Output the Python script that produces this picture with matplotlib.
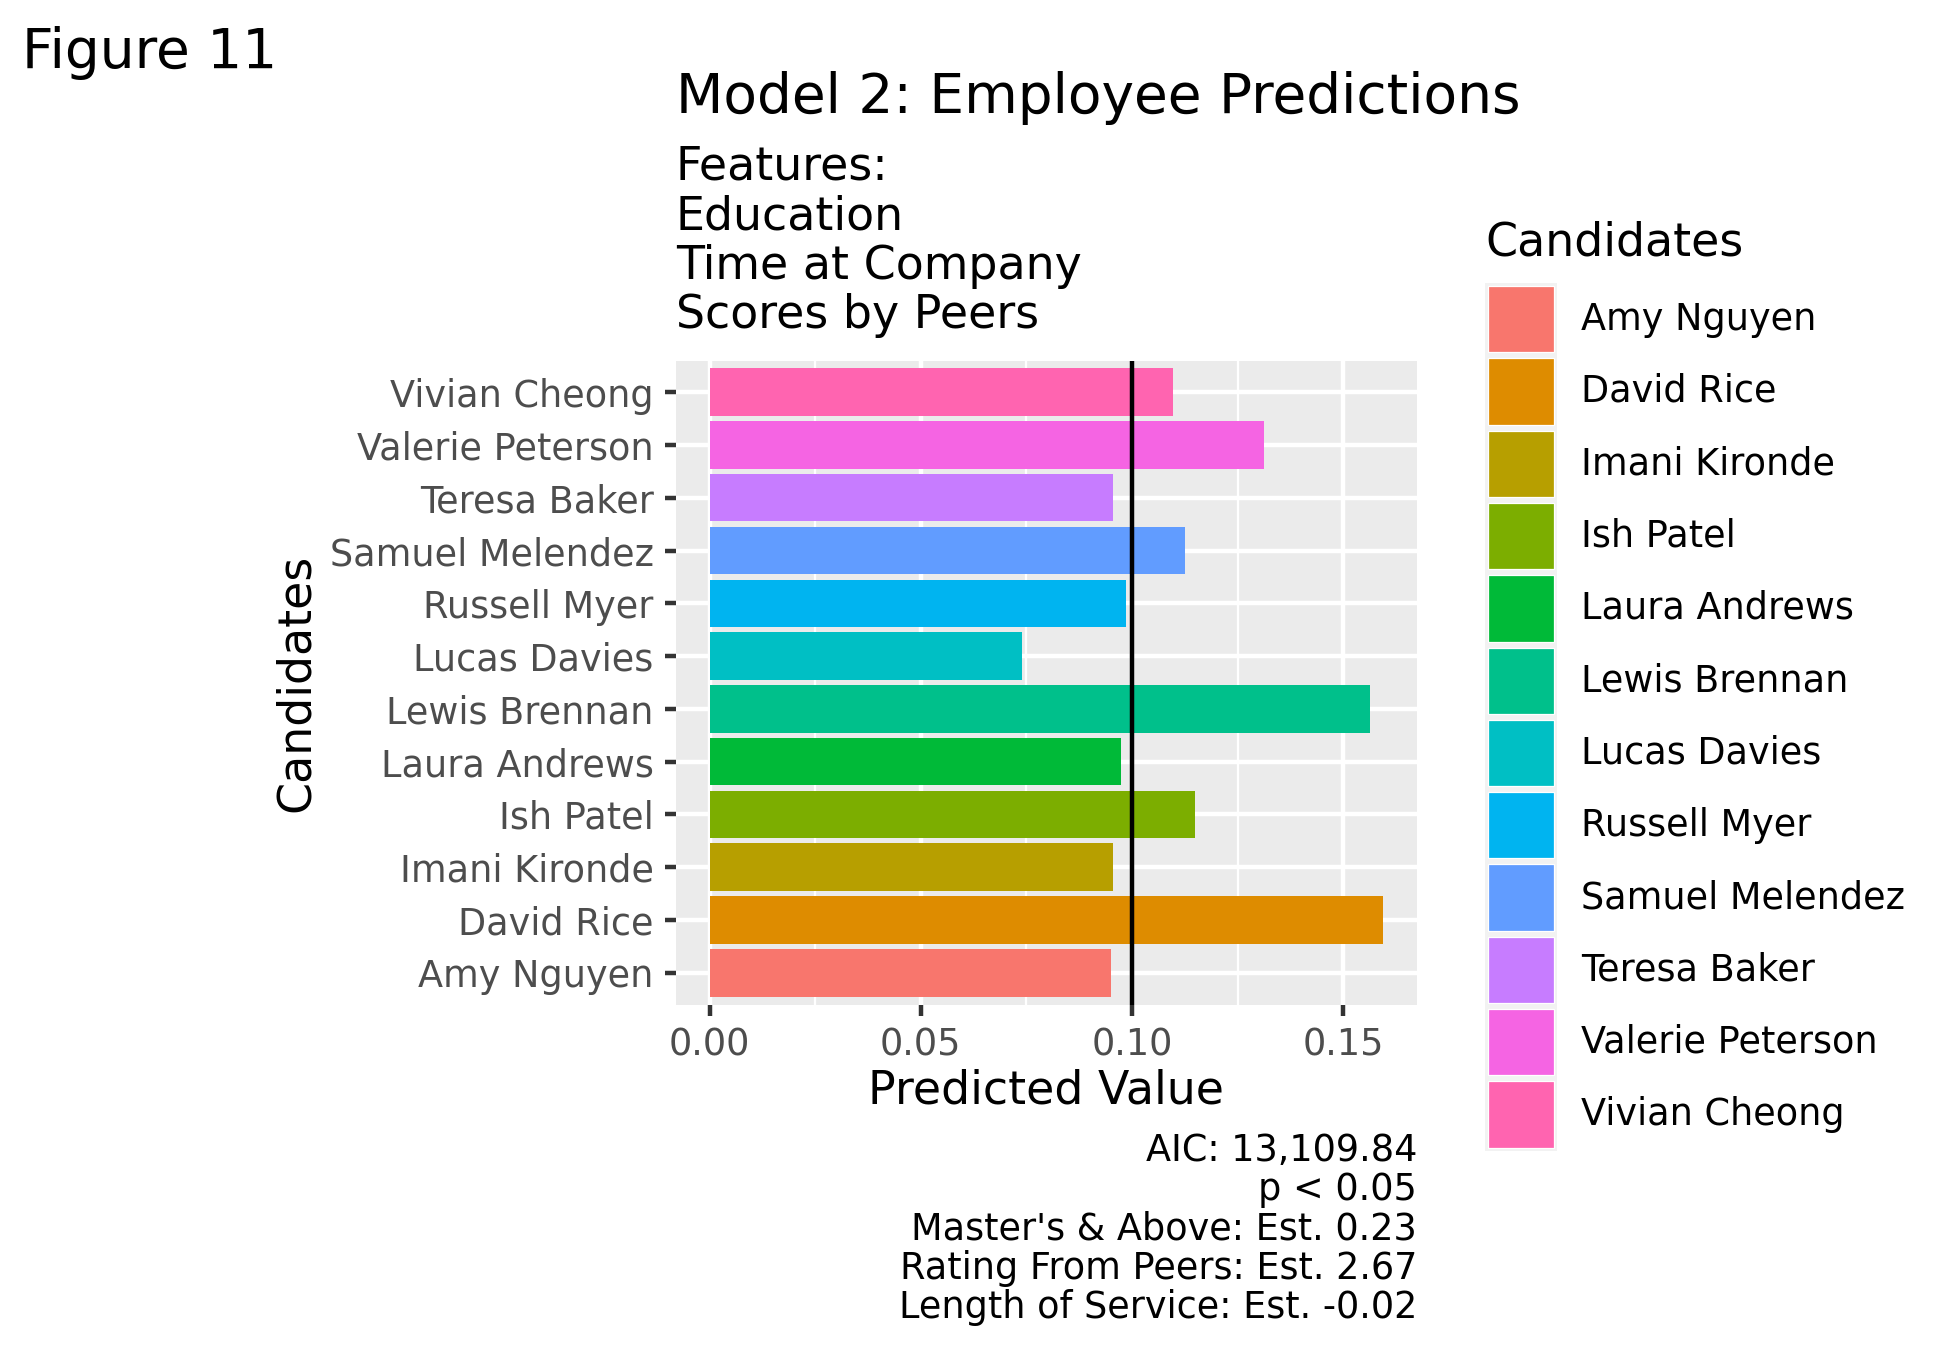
import matplotlib
matplotlib.use("Agg")
import matplotlib.pyplot as plt
from matplotlib.patches import Rectangle
import numpy as np

plt.rcParams['font.family'] = ['DejaVu Sans']

# data
candidates = ["Amy Nguyen", "David Rice", "Imani Kironde", "Ish Patel",
              "Laura Andrews", "Lewis Brennan", "Lucas Davies", "Russell Myer",
              "Samuel Melendez", "Teresa Baker", "Valerie Peterson", "Vivian Cheong"]
predicted = [0.0950, 0.1595, 0.0956, 0.1150, 0.0973, 0.1563,
             0.0740, 0.0985, 0.1125, 0.0956, 0.1313, 0.1097]
hue_colors = ["#F8766D", "#DE8C00", "#B79F00", "#7CAE00", "#00BA38", "#00C08B",
              "#00BFC4", "#00B4F0", "#619CFF", "#C77CFF", "#F564E3", "#FF64B0"]
threshold = 0.10
x_ticks = [0.00, 0.05, 0.10, 0.15]
x_minor = [0.025, 0.075, 0.125]
subtitle_lines = ["Features:", "Education", "Time at Company", "Scores by Peers"]
caption_lines = ["AIC: 13,109.84", "p < 0.05", "Master's & Above: Est. 0.23",
                 "Rating From Peers: Est. 2.67", "Length of Service: Est. -0.02"]

W, H = 1950, 1349
fig = plt.figure(figsize=(W / 300, H / 300), dpi=300)


def fx(px):
    return px / W


def fy(py):
    return 1 - py / H


# panel box in pixels
pl, pr, pt, pb = 676, 1417, 360.5, 1004.5
ax = fig.add_axes([fx(pl), fy(pb), fx(pr - pl), (pb - pt) / H])
ax.set_facecolor("#EBEBEB")

y = np.arange(len(candidates))
ax.barh(y, predicted, height=0.9, color=hue_colors, zorder=2)
ax.axvline(threshold, color="black", lw=1.07, zorder=3)

xmax = max(predicted)
ax.set_xlim(-0.05 * xmax, xmax * 1.05)
ax.set_ylim(-0.6, len(candidates) - 0.4)
ax.set_xticks(x_ticks, [f"{v:.2f}" for v in x_ticks])
ax.set_xticks(x_minor, minor=True)
ax.set_yticks(y, candidates)
ax.set_axisbelow(True)
ax.grid(which="major", color="white", lw=1.07)
ax.grid(which="minor", axis="x", color="white", lw=0.53)
for s in ax.spines.values():
    s.set_visible(False)
ax.tick_params(which="major", length=2.75, width=1.07, color="#333333",
               labelsize=8.8, labelcolor="#4D4D4D", pad=2.6)
ax.tick_params(which="minor", length=0)

# titles
fig.text(fx(22), fy(68), "Figure 11", fontsize=13.2, va="baseline", ha="left")
fig.text(fx(pl), fy(113), "Model 2: Employee Predictions", fontsize=13.2,
         va="baseline", ha="left")
for i, line in enumerate(subtitle_lines):
    fig.text(fx(pl), fy(180 + i * 49.3), line, fontsize=11,
             va="baseline", ha="left")

# axis titles
fig.text(fx((pl + pr) / 2), fy(1103), "Predicted Value", fontsize=11,
         va="baseline", ha="center")
fig.text(fx(296), fy((pt + pb) / 2), "Candidates", fontsize=11,
         va="center", ha="center", rotation=90)

# caption
for i, line in enumerate(caption_lines):
    fig.text(fx(pr), fy(1161 + i * 39.3), line, fontsize=8.8,
             va="baseline", ha="right")

# legend
fig.text(fx(1485), fy(255), "Candidates", fontsize=11, va="baseline", ha="left")
lax = fig.add_axes([0, 0, 1, 1])
lax.set_xlim(0, W)
lax.set_ylim(H, 0)
lax.axis("off")
kx, ky, kw, kh = 1485, 283, 72, 72.3
for i, (name, col) in enumerate(zip(candidates, hue_colors)):
    top = ky + i * kh
    lax.add_patch(Rectangle((kx, top), kw, kh, facecolor="#F2F2F2", edgecolor="none"))
    lax.add_patch(Rectangle((kx + 3, top + 3), kw - 6, kh - 6, facecolor=col,
                            edgecolor="white", lw=0.3))
    lax.text(1581, top + kh / 2, name, fontsize=8.8, va="center", ha="left")

fig.savefig("out.png", dpi=300)
